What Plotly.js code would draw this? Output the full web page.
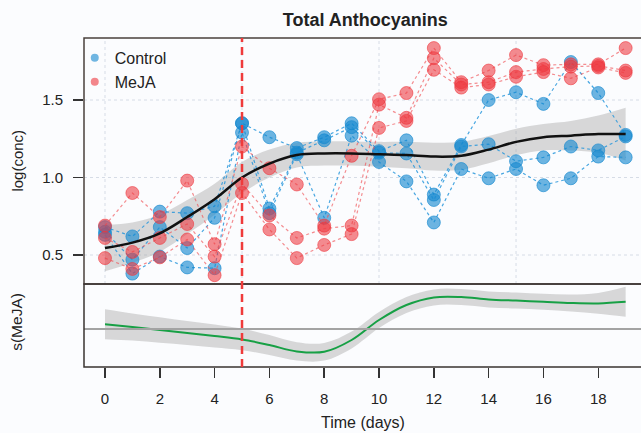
<!DOCTYPE html>
<html><head><meta charset="utf-8">
<script src="https://cdn.plot.ly/plotly-3.0.1.min.js"></script>
<style>html,body{margin:0;padding:0;background:#fbfcfe;} #chart{width:641px;height:433px;}</style>
</head><body><div id="chart"></div>
<script>
// ---- data ----
const days = [0,1,2,3,4,5,6,7,8,9,10,11,12,13,14,15,16,17,18,19];

const control1 = [0.68,0.62,0.78,0.77,0.815,1.35,1.26,1.19,1.26,1.35,1.17,1.24,0.89,1.21,1.50,1.55,1.475,1.745,1.545,1.275];
const control2 = [0.65,0.47,0.68,0.545,0.74,1.35,0.80,1.16,1.24,1.325,1.16,1.155,0.855,1.20,1.215,1.105,1.13,1.20,1.175,1.265];
const control3 = [0.63,0.38,0.49,0.42,0.415,1.29,0.77,1.15,0.74,1.27,1.10,0.975,0.71,1.055,0.995,1.055,0.95,0.995,1.135,1.13];

const meja1 = [0.69,0.90,0.745,0.98,0.57,1.20,1.06,0.955,0.69,1.14,1.505,1.545,1.835,1.615,1.69,1.79,1.725,1.73,1.73,1.835];
const meja2 = [0.61,0.52,0.61,0.70,0.49,0.96,0.755,0.61,0.67,0.69,1.47,1.385,1.77,1.60,1.615,1.68,1.70,1.715,1.72,1.69];
const meja3 = [0.48,0.41,0.485,0.60,0.37,0.90,0.665,0.48,0.565,0.635,1.32,1.365,1.695,1.58,1.60,1.65,1.68,1.64,1.71,1.675];

// overall smooth (black) and its confidence half-width
const fitAll = [0.545,0.58,0.64,0.745,0.86,1.00,1.09,1.145,1.155,1.155,1.15,1.145,1.135,1.14,1.18,1.23,1.26,1.27,1.28,1.28];
const fitAllSE = [0.15,0.13,0.12,0.11,0.10,0.10,0.09,0.08,0.078,0.078,0.08,0.085,0.09,0.09,0.088,0.085,0.085,0.095,0.12,0.17];

// difference smooth s(MeJA) and its confidence half-width
const sMeja = [0.12,0.05,-0.025,-0.10,-0.175,-0.26,-0.40,-0.56,-0.57,-0.275,0.225,0.60,0.79,0.80,0.74,0.71,0.68,0.65,0.64,0.68];
const sMejaSE = [0.375,0.34,0.32,0.30,0.29,0.27,0.25,0.23,0.22,0.21,0.2,0.2,0.2,0.2,0.2,0.2,0.2,0.21,0.26,0.375];

const treatmentDay = 5;
const xTicks = [0,2,4,6,8,10,12,14,16,18];
const yTicks = [0.5,1.0,1.5];
const yTickText = ['0.5','1.0','1.5'];
const xGrid = [0,5,10,15];

// ---- styling ----
const FONT = 'Liberation Sans, Arial, Helvetica, sans-serif';
const blueM = 'rgba(20,135,206,0.62)';
const blueL = 'rgba(40,150,220,0.85)';
const redM = 'rgba(238,55,62,0.58)';
const redL = 'rgba(240,80,85,0.65)';
const bandFill = 'rgba(165,165,165,0.42)';
const splitFrac = 83/329;

const traces = [];
function band(fit, se, yaxis){
  traces.push({x: days, y: fit.map((v,i)=>v+se[i]), yaxis: yaxis, mode:'lines',
    line:{width:0, shape:'spline'}, hoverinfo:'skip', showlegend:false});
  traces.push({x: days, y: fit.map((v,i)=>v-se[i]), yaxis: yaxis, mode:'lines', fill:'tonexty',
    fillcolor: bandFill, line:{width:0, shape:'spline'}, hoverinfo:'skip', showlegend:false});
}
band(fitAll, fitAllSE, 'y');

function reps(arrs, mc, lc){
  arrs.forEach(a=>{
    traces.push({x: days, y: a, yaxis:'y', mode:'lines+markers', showlegend:false,
      line:{color: lc, width:1.2, dash:'3px,3px'},
      marker:{size:13, color: mc, line:{width:1, color: mc}}});
  });
}
reps([control1,control2,control3], blueM, blueL);
reps([meja1,meja2,meja3], redM, redL);

traces.push({x: days, y: fitAll, yaxis:'y', mode:'lines', line:{color:'#111', width:2.5, shape:'spline'}, showlegend:false});

band(sMeja, sMejaSE, 'y2');
traces.push({x: days, y: sMeja, yaxis:'y2', mode:'lines', line:{color:'#17a045', width:2, shape:'spline'}, showlegend:false});

// legend entries
traces.push({x:[null], y:[null], yaxis:'y', mode:'markers', name:'Control', marker:{size:8, color:'rgba(20,135,206,0.6)'}});
traces.push({x:[null], y:[null], yaxis:'y', mode:'markers', name:'MeJA', marker:{size:8, color:'rgba(238,55,62,0.6)'}});

const shapes = [];
xGrid.forEach(g=>shapes.push({type:'line', xref:'x', yref:'y', x0:g, x1:g, y0:0.313, y1:1.9, layer:'below',
  line:{color:'#d6dce6', width:1, dash:'dot'}}));
yTicks.forEach(g=>shapes.push({type:'line', xref:'paper', yref:'y', x0:0, x1:1, y0:g, y1:g, layer:'below',
  line:{color:'#d6dce6', width:1, dash:'dot'}}));
shapes.push({type:'line', xref:'paper', yref:'y2', x0:0, x1:1, y0:0, y1:0, layer:'above', line:{color:'#a3a3a3', width:2}});
shapes.push({type:'rect', xref:'paper', yref:'paper', x0:0, x1:1.01, y0:splitFrac, y1:1, line:{color:'#4a403c', width:1.5}});
shapes.push({type:'rect', xref:'paper', yref:'paper', x0:0, x1:1.01, y0:0, y1:splitFrac, line:{color:'#3a3331', width:1.5}});
shapes.push({type:'line', xref:'x', yref:'paper', x0:treatmentDay, x1:treatmentDay, y0:0, y1:1, layer:'above',
  line:{color:'#ef3b3b', width:2.5, dash:'8px,5px'}});

const layout = {
  width:641, height:433,
  margin:{l:84, r:0, t:38, b:66},
  paper_bgcolor:'#fbfcfe', plot_bgcolor:'#fbfcfe',
  font:{family:FONT, size:15, color:'#222'},
  title:{text:'<b>Total Anthocyanins</b>', font:{family:FONT, size:18, color:'#222'},
    xref:'paper', x:0.505, xanchor:'center', yref:'container', y:0.955, yanchor:'middle'},
  showlegend:true,
  legend:{x:-0.0166, y:0.991, xanchor:'left', yanchor:'top', traceorder:'normal', bgcolor:'rgba(0,0,0,0)',
    font:{size:16, color:'#222'}, itemwidth:30},
  xaxis:{range:[-0.766,19.56], anchor:'y2', tickvals:xTicks, ticks:'outside', ticklen:10, tickwidth:1.5, tickcolor:'#333',
    showgrid:false, zeroline:false, showline:false, tickfont:{size:15}, ticklabelstandoff:8},
  yaxis:{domain:[splitFrac,1], range:[0.313,1.9], tickvals:yTicks, ticktext:yTickText, ticks:'outside', ticklen:10,
    tickwidth:1.5, tickcolor:'#333', showgrid:false, zeroline:false, showline:false, tickfont:{size:15}, ticklabelstandoff:7},
  yaxis2:{domain:[0,splitFrac], range:[-0.95,1.125], showticklabels:false, ticks:'', showgrid:false, zeroline:false, showline:false},
  shapes: shapes,
  annotations:[
    {text:'log(conc)', xref:'paper', yref:'paper', x:-0.121, y:(1+splitFrac)/2, xanchor:'center', yanchor:'middle',
      textangle:-90, showarrow:false, font:{size:15}},
    {text:'s(MeJA)', xref:'paper', yref:'paper', x:-0.121, y:splitFrac/2 + 0.01, xanchor:'center', yanchor:'middle',
      textangle:-90, showarrow:false, font:{size:15.5}},
    {text:'Time (days)', xref:'paper', yref:'paper', x:0.5, y:-0.17, xanchor:'center', yanchor:'middle',
      showarrow:false, font:{size:16}}
  ]
};
Plotly.newPlot('chart', traces, layout, {staticPlot:true, displayModeBar:false});
</script></body></html>
